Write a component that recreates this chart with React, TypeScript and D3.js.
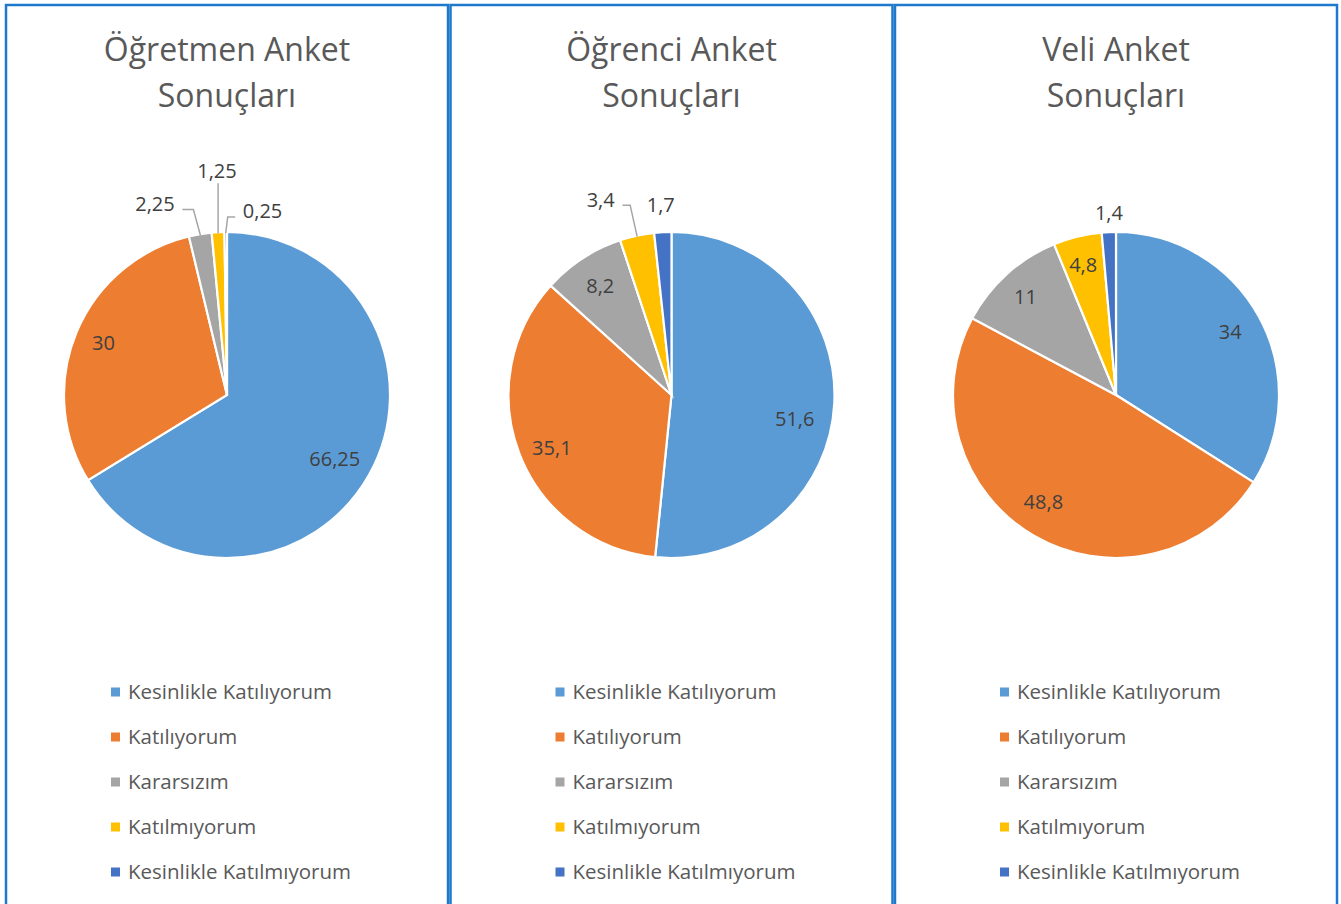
import * as d3 from "d3";

const categories = [
  "Kesinlikle Katılıyorum",
  "Katılıyorum",
  "Kararsızım",
  "Katılmıyorum",
  "Kesinlikle Katılmıyorum",
];
const colors = ["#5B9BD5", "#ED7D31", "#A5A5A5", "#FFC000", "#4472C4"];

const titles = [
  ["Öğretmen Anket", "Sonuçları"],
  ["Öğrenci Anket", "Sonuçları"],
  ["Veli Anket", "Sonuçları"],
];
const teacherValues = [66.25, 30, 2.25, 1.25, 0.25];
const studentValues = [51.6, 35.1, 8.2, 3.4, 1.7];
const parentValues = [34, 48.8, 11, 4.8, 1.4];

// label placement tweaks (Excel best fit): inside nudges, outside labels with leaders
const insideNudges = [
  { 0: [-6, 0], 1: [-3, -2] },
  { 0: [-7, 17], 1: [2, 6] },
  { 1: [-7, -6], 2: [-3, -1], 3: [-2, -3] },
];
const outsideLabels = [
  {
    2: { nudge: [-42, -10], leader: "fromLeft" },
    3: { nudge: [0, -41], leader: "up" },
    4: { nudge: [37, -1], leader: "fromRight" },
  },
  {
    3: { nudge: [-32, -16], leader: "fromLeft" },
    4: { nudge: [-1, -7], leader: null },
  },
  {
    4: { nudge: [1, 1], leader: null },
  },
];

const W = 1341;
const H = 904;
const FONT = "'Open Sans', 'Noto Sans', sans-serif";
const panelW = 442;
const panelStep = 444.5;
const radius = 163;
const cy = 395;

const fmt = (v: number) => String(v).replace(".", ",");

function PiePanel({ index, values }: { index: number; values: number[] }) {
  const x0 = 6 + index * panelStep;
  const cx = x0 + panelW / 2;
  const pie = d3
    .pie<number>()
    .sort(null)
    .value((d) => d);
  const arcs = pie(values);
  const arc = d3.arc<d3.PieArcDatum<number>>().innerRadius(0).outerRadius(radius);
  const polar = (a: number, r: number) => [r * Math.sin(a), -r * Math.cos(a)];
  const cfg: any = outsideLabels[index];
  const nud: any = insideNudges[index];

  return (
    <g>
      <rect
        x={x0}
        y={5}
        width={panelW}
        height={H + 20}
        fill="#fff"
        stroke="#1E78CC"
        strokeWidth={2.5}
      />
      <text
        x={cx}
        textAnchor="middle"
        fontFamily={FONT}
        fontSize={32}
        fill="#595959"
      >
        <tspan x={cx} y={61}>
          {titles[index][0]}
        </tspan>
        <tspan x={cx} y={107}>
          {titles[index][1]}
        </tspan>
      </text>
      <g transform={`translate(${cx},${cy})`}>
        {arcs.map((a, i) => (
          <path key={i} d={arc(a) || ""} fill={colors[i]} stroke="#fff" strokeWidth={2.2} />
        ))}
        {arcs.map((a, i) => {
          const mid = (a.startAngle + a.endAngle) / 2;
          const o = cfg[i];
          if (!o) {
            const [px, py] = polar(mid, radius * 0.8);
            const n = nud[i] || [0, 0];
            return (
              <text
                key={"l" + i}
                x={px + n[0]}
                y={py + n[1]}
                dy="0.35em"
                textAnchor="middle"
                fontFamily={FONT}
                fontSize={20}
                fill="#404040"
              >
                {fmt(values[i])}
              </text>
            );
          }
          const [bx, by] = polar(mid, radius + 20);
          const lx = bx + o.nudge[0];
          const ly = by + o.nudge[1];
          const [sx, sy] = polar(mid, radius - 1);
          const label = fmt(values[i]);
          const halfW = label.length * 5.6 + 5;
          let pts: number[][] | null = null;
          if (o.leader === "fromLeft") {
            pts = [
              [lx + halfW, ly + 5],
              [sx - 7, ly + 5],
              [sx, sy],
            ];
          } else if (o.leader === "fromRight") {
            pts = [
              [lx - halfW, ly + 6],
              [sx + 2, ly + 6],
              [sx, sy],
            ];
          } else if (o.leader === "up") {
            pts = [
              [sx, ly + 12],
              [sx, sy],
            ];
          }
          return (
            <g key={"l" + i}>
              {pts && (
                <polyline
                  points={pts.map((p) => p.join(",")).join(" ")}
                  fill="none"
                  stroke="#A6A6A6"
                  strokeWidth={1.5}
                />
              )}
              <text
                x={lx}
                y={ly}
                dy="0.35em"
                textAnchor="middle"
                fontFamily={FONT}
                fontSize={20}
                fill="#404040"
              >
                {label}
              </text>
            </g>
          );
        })}
      </g>
      {categories.map((c, i) => (
        <g key={c} transform={`translate(${x0 + 105},${692 + i * 45})`}>
          <rect x={0} y={-4.5} width={9} height={9} fill={colors[i]} />
          <text
            x={17}
            y={0}
            dy="0.35em"
            fontFamily={FONT}
            fontSize={20.5}
            fill="#595959"
          >
            {c}
          </text>
        </g>
      ))}
    </g>
  );
}

export default function App() {
  const all = [teacherValues, studentValues, parentValues];
  return (
    <svg
      width={W}
      height={H}
      style={{ position: "absolute", left: 0, top: 0, background: "#fff" }}
    >
      <rect width={W} height={H} fill="#fff" />
      {all.map((v, i) => (
        <PiePanel key={i} index={i} values={v} />
      ))}
    </svg>
  );
}
